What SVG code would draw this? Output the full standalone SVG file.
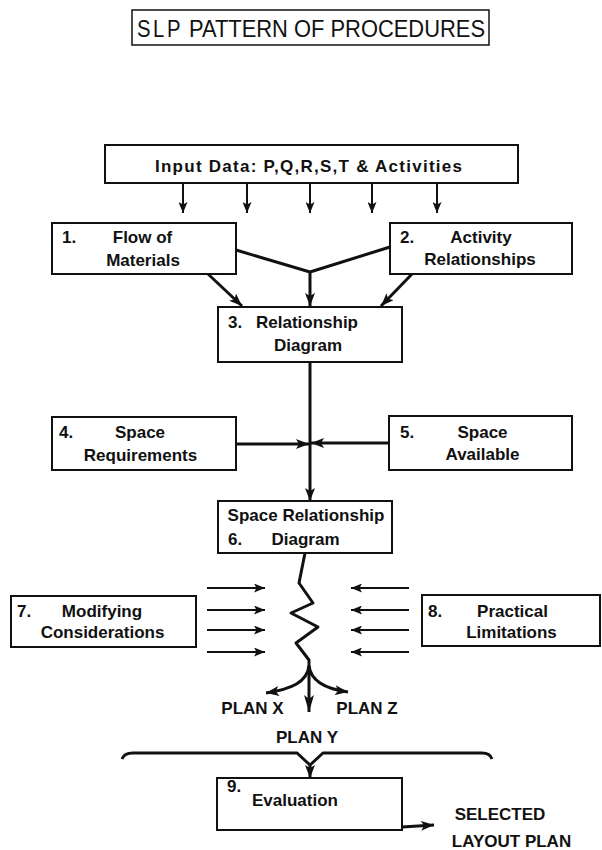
<svg xmlns="http://www.w3.org/2000/svg" width="602" height="850" viewBox="0 0 602 850">
  <style>
    .box { fill: #fff; stroke: #111; stroke-width: 2; }
    .lbl { font-family: "Liberation Sans", Arial, sans-serif; font-weight: bold; font-size: 17px; fill: #111; }
    .mid { text-anchor: middle; }
    .ttl { font-family: "Liberation Sans", Arial, sans-serif; font-size: 24px; fill: #111; }
    .ln { fill: none; stroke: #111; stroke-width: 3; stroke-linejoin: round; }
    .thin { fill: none; stroke: #111; stroke-width: 2; }
  </style>
  <defs>
    <marker id="ah" markerUnits="userSpaceOnUse" markerWidth="14" markerHeight="10" refX="13" refY="5" orient="auto">
      <path d="M0,0 L13,5 L0,10 L3,5 z" fill="#111"/>
    </marker>
    <marker id="ahs" markerUnits="userSpaceOnUse" markerWidth="12" markerHeight="9" refX="11" refY="4.5" orient="auto">
      <path d="M0,0 L11,4.5 L0,9 L2.5,4.5 z" fill="#111"/>
    </marker>
    <marker id="ahl" markerUnits="userSpaceOnUse" markerWidth="18" markerHeight="10" refX="17" refY="5" orient="auto">
      <path d="M0,0 L17,5 L0,10 L4,5 z" fill="#111"/>
    </marker>
  </defs>

  <g id="title">
    <rect class="thin" x="132" y="10" width="357" height="35" style="stroke-width:1.5"/>
    <text class="ttl" x="137" y="37" font-size="22" letter-spacing="3" textLength="46" lengthAdjust="spacingAndGlyphs">SLP</text>
    <text class="ttl" x="189" y="37" textLength="296" lengthAdjust="spacingAndGlyphs">PATTERN OF PROCEDURES</text>
  </g>

  <g id="input">
    <rect class="box" x="105" y="145" width="413" height="38"/>
    <text class="lbl" x="155" y="172" textLength="307" lengthAdjust="spacing">Input Data:  P,Q,R,S,T  &amp;  Activities</text>
  </g>

  <g id="connectors">
    <!-- input fan-out -->
    <line class="thin" x1="183" y1="183" x2="183" y2="213" marker-end="url(#ahs)"/>
    <line class="thin" x1="247" y1="183" x2="247" y2="213" marker-end="url(#ahs)"/>
    <line class="thin" x1="310" y1="183" x2="310" y2="213" marker-end="url(#ahs)"/>
    <line class="thin" x1="372" y1="183" x2="372" y2="213" marker-end="url(#ahs)"/>
    <line class="thin" x1="437" y1="183" x2="437" y2="213" marker-end="url(#ahs)"/>
    <!-- 1 and 2 into 3 -->
    <polyline class="ln" points="236,250 310,272 390,247"/>
    <line class="ln" x1="310" y1="272" x2="310" y2="306" marker-end="url(#ah)"/>
    <line class="ln" x1="208" y1="274" x2="242" y2="306" marker-end="url(#ah)"/>
    <line class="ln" x1="412" y1="274" x2="381" y2="306" marker-end="url(#ah)"/>
    <!-- 3 down to 6, with 4 and 5 joining -->
    <line class="ln" x1="310" y1="362" x2="310" y2="501" marker-end="url(#ah)"/>
    <line class="ln" x1="236" y1="444" x2="309" y2="444" marker-end="url(#ah)"/>
    <line class="ln" x1="389" y1="443" x2="311" y2="443" marker-end="url(#ah)"/>
    <!-- zigzag through modifying considerations -->
    <polyline class="ln" points="305,553 299,583 313,603 291,613 318,627 296,643 309,660 309,668"/>
    <line class="thin" x1="207" y1="588" x2="265" y2="588" marker-end="url(#ahs)"/>
    <line class="thin" x1="207" y1="610" x2="265" y2="610" marker-end="url(#ahs)"/>
    <line class="thin" x1="207" y1="630" x2="265" y2="630" marker-end="url(#ahs)"/>
    <line class="thin" x1="207" y1="652" x2="265" y2="652" marker-end="url(#ahs)"/>
    <line class="thin" x1="409" y1="588" x2="351" y2="588" marker-end="url(#ahs)"/>
    <line class="thin" x1="409" y1="610" x2="351" y2="610" marker-end="url(#ahs)"/>
    <line class="thin" x1="409" y1="630" x2="351" y2="630" marker-end="url(#ahs)"/>
    <line class="thin" x1="409" y1="652" x2="351" y2="652" marker-end="url(#ahs)"/>
    <!-- split into plans -->
    <path class="ln" d="M309,666 C307,682 292,689 266,693" marker-end="url(#ah)"/>
    <path class="ln" d="M309,666 C311,682 326,689 348,692" marker-end="url(#ah)"/>
    <line class="ln" x1="309" y1="666" x2="309" y2="712" marker-end="url(#ahl)"/>
    <!-- brace gathering the plans -->
    <path class="ln" d="M122,759 Q124,753 133,753 L297,753 L310,765 L323,753 L482,753 Q490,753 492,759"/>
    <line class="ln" x1="310" y1="764" x2="310" y2="778" marker-end="url(#ah)"/>
    <!-- result -->
    <line class="ln" x1="402" y1="827" x2="434" y2="825" marker-end="url(#ah)"/>
  </g>

  <g id="n1">
    <rect class="box" x="52" y="223" width="184" height="51"/>
    <text class="lbl" x="62" y="243">1.</text>
    <text class="lbl mid" x="142.5" y="243">Flow  of</text>
    <text class="lbl mid" x="143" y="266">Materials</text>
  </g>
  <g id="n2">
    <rect class="box" x="390" y="223" width="182" height="51"/>
    <text class="lbl" x="400" y="243">2.</text>
    <text class="lbl mid" x="481" y="243">Activity</text>
    <text class="lbl mid" x="480" y="265">Relationships</text>
  </g>
  <g id="n3">
    <rect class="box" x="218" y="307" width="184" height="55"/>
    <text class="lbl" x="228" y="328">3.</text>
    <text class="lbl mid" x="307" y="328">Relationship</text>
    <text class="lbl mid" x="308" y="351">Diagram</text>
  </g>
  <g id="n4">
    <rect class="box" x="52" y="417" width="184" height="53"/>
    <text class="lbl" x="59" y="438">4.</text>
    <text class="lbl mid" x="140" y="438">Space</text>
    <text class="lbl mid" x="140.5" y="461">Requirements</text>
  </g>
  <g id="n5">
    <rect class="box" x="389" y="416" width="183" height="54"/>
    <text class="lbl" x="400" y="438">5.</text>
    <text class="lbl mid" x="482.5" y="438">Space</text>
    <text class="lbl mid" x="482.5" y="460">Available</text>
  </g>
  <g id="n6">
    <rect class="box" x="218" y="501" width="174" height="52"/>
    <text class="lbl mid" x="306" y="521">Space  Relationship</text>
    <text class="lbl" x="228" y="545">6.</text>
    <text class="lbl mid" x="305.5" y="545">Diagram</text>
  </g>
  <g id="n7">
    <rect class="box" x="11" y="596" width="185" height="51"/>
    <text class="lbl" x="17" y="617">7.</text>
    <text class="lbl mid" x="102" y="617">Modifying</text>
    <text class="lbl mid" x="102.5" y="638">Considerations</text>
  </g>
  <g id="n8">
    <rect class="box" x="422" y="595" width="178" height="51"/>
    <text class="lbl" x="428" y="617">8.</text>
    <text class="lbl mid" x="512.5" y="617">Practical</text>
    <text class="lbl mid" x="511.5" y="638">Limitations</text>
  </g>
  <g id="plans">
    <text class="lbl mid" x="252.5" y="714">PLAN  X</text>
    <text class="lbl mid" x="367" y="714">PLAN  Z</text>
    <text class="lbl mid" x="307" y="743">PLAN  Y</text>
  </g>
  <g id="n9">
    <rect class="box" x="217" y="778" width="185" height="52"/>
    <text class="lbl" x="227" y="792">9.</text>
    <text class="lbl mid" x="295" y="806">Evaluation</text>
  </g>
  <g id="result">
    <text class="lbl mid" x="500" y="820">SELECTED</text>
    <text class="lbl mid" x="511.5" y="847">LAYOUT  PLAN</text>
  </g>
</svg>
